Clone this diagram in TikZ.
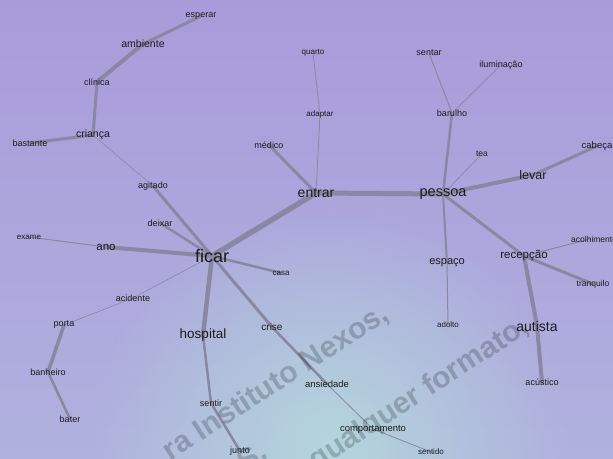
\documentclass[tikz,border=0pt]{standalone}
\usepackage{fontspec}
\setmainfont{Liberation Sans}
\usetikzlibrary{fadings}
\pgfdeclarelayer{back}
\pgfdeclarelayer{edges}
\pgfsetlayers{back,edges,main}
\definecolor{bgtop}{HTML}{A99BDA}
\definecolor{bgbot}{HTML}{B0B1DE}
\definecolor{blob}{HTML}{B4D6DC}
\definecolor{edgecol}{HTML}{8888A2}
\definecolor{ink}{HTML}{1C1C1C}
\newcommand\wsz[1]{\fontsize{#1}{#1}\selectfont}
\tikzfading[name=blobfade, inner color=transparent!0, outer color=transparent!100]
\begin{document}
\begin{tikzpicture}[x=1pt,y=-1pt,
  lbl/.style={inner sep=0pt, text=ink},
  ed/.style={draw=edgecol, line cap=round},
  wmark/.style={rotate=33, anchor=base west, font=\bfseries\wsz{30}, text=black, text opacity=0.2}]
\useasboundingbox (0,0) rectangle (613,458);
\begin{pgfonlayer}{back}
\begin{scope}
\clip (0,0) rectangle (613,458);
\shade[top color=bgtop, bottom color=bgbot] (0,0) rectangle (613,458);
\fill[blob, path fading=blobfade] (330,445) circle (240pt);
\end{scope}
\end{pgfonlayer}

% nodes
\node[lbl, font=\wsz{9}]    (esperar)   at (201,16)  {esperar};
\node[lbl, font=\wsz{10.5}] (ambiente)  at (143,44)  {ambiente};
\node[lbl, font=\wsz{9}]    (clinica)   at (97,82)   {clínica};
\node[lbl, font=\wsz{10.5}] (crianca)   at (93,135)  {criança};
\node[lbl, font=\wsz{9}]    (bastante)  at (30,143)  {bastante};
\node[lbl, font=\wsz{9}]    (agitado)   at (153,186) {agitado};
\node[lbl, font=\wsz{9}]    (medico)    at (269,145) {médico};
\node[lbl, font=\wsz{9}]    (deixar)    at (160,223) {deixar};
\node[lbl, font=\wsz{8}]    (quarto)    at (313,53)  {quarto};
\node[lbl, font=\wsz{8}]    (adaptar)   at (320,114) {adaptar};
\node[lbl, font=\wsz{14}]   (entrar)    at (316,193) {entrar};
\node[lbl, font=\wsz{14.5}] (pessoa)    at (443,194) {pessoa};
\node[lbl, font=\wsz{9}]    (sentar)    at (429,53)  {sentar};
\node[lbl, font=\wsz{9}]    (iluminacao) at (501,65) {iluminação};
\node[lbl, font=\wsz{9}]    (barulho)   at (452,113) {barulho};
\node[lbl, font=\wsz{8.5}]  (tea)       at (482,154) {tea};
\node[lbl, font=\wsz{12.5}] (levar)     at (533,175) {levar};
\node[lbl, font=\wsz{9.5}]  (cabeca)    at (597,146) {cabeça};
\node[lbl, font=\wsz{8}]    (exame)     at (29,237)  {exame};
\node[lbl, font=\wsz{11.5}] (ano)       at (106,247) {ano};
\node[lbl, font=\wsz{18}]   (ficar)     at (212,256) {ficar};
\node[lbl, font=\wsz{8}]    (casa)      at (281,273) {casa};
\node[lbl, font=\wsz{9}]    (acidente)  at (133,298) {acidente};
\node[lbl, font=\wsz{9}]    (porta)     at (64,325)  {porta};
\node[lbl, font=\wsz{9}]    (banheiro)  at (48,372)  {banheiro};
\node[lbl, font=\wsz{9}]    (bater)     at (70,419)  {bater};
\node[lbl, font=\wsz{13.5}] (hospital)  at (203,335) {hospital};
\node[lbl, font=\wsz{10}]   (crise)     at (272,327) {crise};
\node[lbl, font=\wsz{9}]    (sentir)    at (211,403) {sentir};
\node[lbl, font=\wsz{9}]    (junto)     at (240,451) {junto};
\node[lbl, font=\wsz{9.5}]  (ansiedade) at (327,384) {ansiedade};
\node[lbl, font=\wsz{9.5}]  (comport)   at (373,429) {comportamento};
\node[lbl, font=\wsz{8}]    (sentido)   at (431,452) {sentido};
\node[lbl, font=\wsz{11}]   (espaco)    at (447,263) {espaço};
\node[lbl, font=\wsz{8}]    (adolto)    at (448,325) {adolto};
\node[lbl, font=\wsz{11.5}] (recepcao)  at (524,256) {recepção};
\node[lbl, font=\wsz{8.5}, anchor=west] (acolh) at (571,239) {acolhimento};
\node[lbl, font=\wsz{8.5}]  (tranquilo) at (593,284) {tranquilo};
\node[lbl, font=\wsz{14}]   (autista)   at (537,326) {autista};
\node[lbl, font=\wsz{9}]    (acustico)  at (542,382) {acústico};
\coordinate (acolhhub) at (590,239);

% watermark
\node[wmark] (wm1) at (168,463) {ra Instituto Nexos,};
\node[wmark] (wm2) at (314,472) {qualquer formato,};
\node[wmark] (wm3) at (243,474) {S.};

% edges
\begin{pgfonlayer}{edges}
\draw[ed, line width=3]   (esperar.center) -- (ambiente.center);
\draw[ed, line width=4]   (ambiente.center) -- (clinica.center);
\draw[ed, line width=3]   (clinica.center) -- (crianca.center);
\draw[ed, line width=3]   (crianca.center) -- (bastante.center);
\draw[ed, line width=0.5] (crianca.center) -- (agitado.center);
\draw[ed, line width=3]   (agitado.center) -- (ficar.center);
\draw[ed, line width=2.5] (deixar.center) -- (ficar.center);
\draw[ed, line width=1]   (exame.center) -- (ano.center);
\draw[ed, line width=4]   (ano.center) -- (ficar.center);
\draw[ed, line width=5.5] (ficar.center) -- (entrar.center);
\draw[ed, line width=3]   (medico.center) -- (entrar.center);
\draw[ed, line width=0.8] (quarto.center) -- (adaptar.center);
\draw[ed, line width=0.8] (adaptar.center) -- (entrar.center);
\draw[ed, line width=5]   (entrar.center) -- (pessoa.center);
\draw[ed, line width=2.5] (pessoa.center) -- (barulho.center);
\draw[ed, line width=1]   (barulho.center) -- (sentar.center);
\draw[ed, line width=0.7] (barulho.center) -- (iluminacao.center);
\draw[ed, line width=0.6] (pessoa.center) -- (tea.center);
\draw[ed, line width=4]   (pessoa.center) -- (levar.center);
\draw[ed, line width=3]   (levar.center) -- (cabeca.center);
\draw[ed, line width=2]   (pessoa.center) -- (espaco.center);
\draw[ed, line width=1]   (espaco.center) -- (adolto.center);
\draw[ed, line width=3]   (pessoa.center) -- (recepcao.center);
\draw[ed, line width=1]   (recepcao.center) -- (acolhhub);
\draw[ed, line width=3]   (recepcao.center) -- (tranquilo.center);
\draw[ed, line width=4]   (recepcao.center) -- (autista.center);
\draw[ed, line width=4]   (autista.center) -- (acustico.center);
\draw[ed, line width=2.5] (ficar.center) -- (casa.center);
\draw[ed, line width=0.6] (ficar.center) -- (acidente.center);
\draw[ed, line width=0.6] (acidente.center) -- (porta.center);
\draw[ed, line width=3.5] (porta.center) -- (banheiro.center);
\draw[ed, line width=2.5] (banheiro.center) -- (bater.center);
\draw[ed, line width=4.5] (ficar.center) -- (hospital.center);
\draw[ed, line width=2.5] (hospital.center) -- (sentir.center);
\draw[ed, line width=2.5] (sentir.center) -- (junto.center);
\draw[ed, line width=3]   (ficar.center) -- (crise.center);
\draw[ed, line width=2.5] (crise.center) -- (ansiedade.center);
\draw[ed, line width=0.8] (ansiedade.center) -- (comport.center);
\draw[ed, line width=0.8] (comport.center) -- (sentido.center);
\end{pgfonlayer}
\end{tikzpicture}
\end{document}
